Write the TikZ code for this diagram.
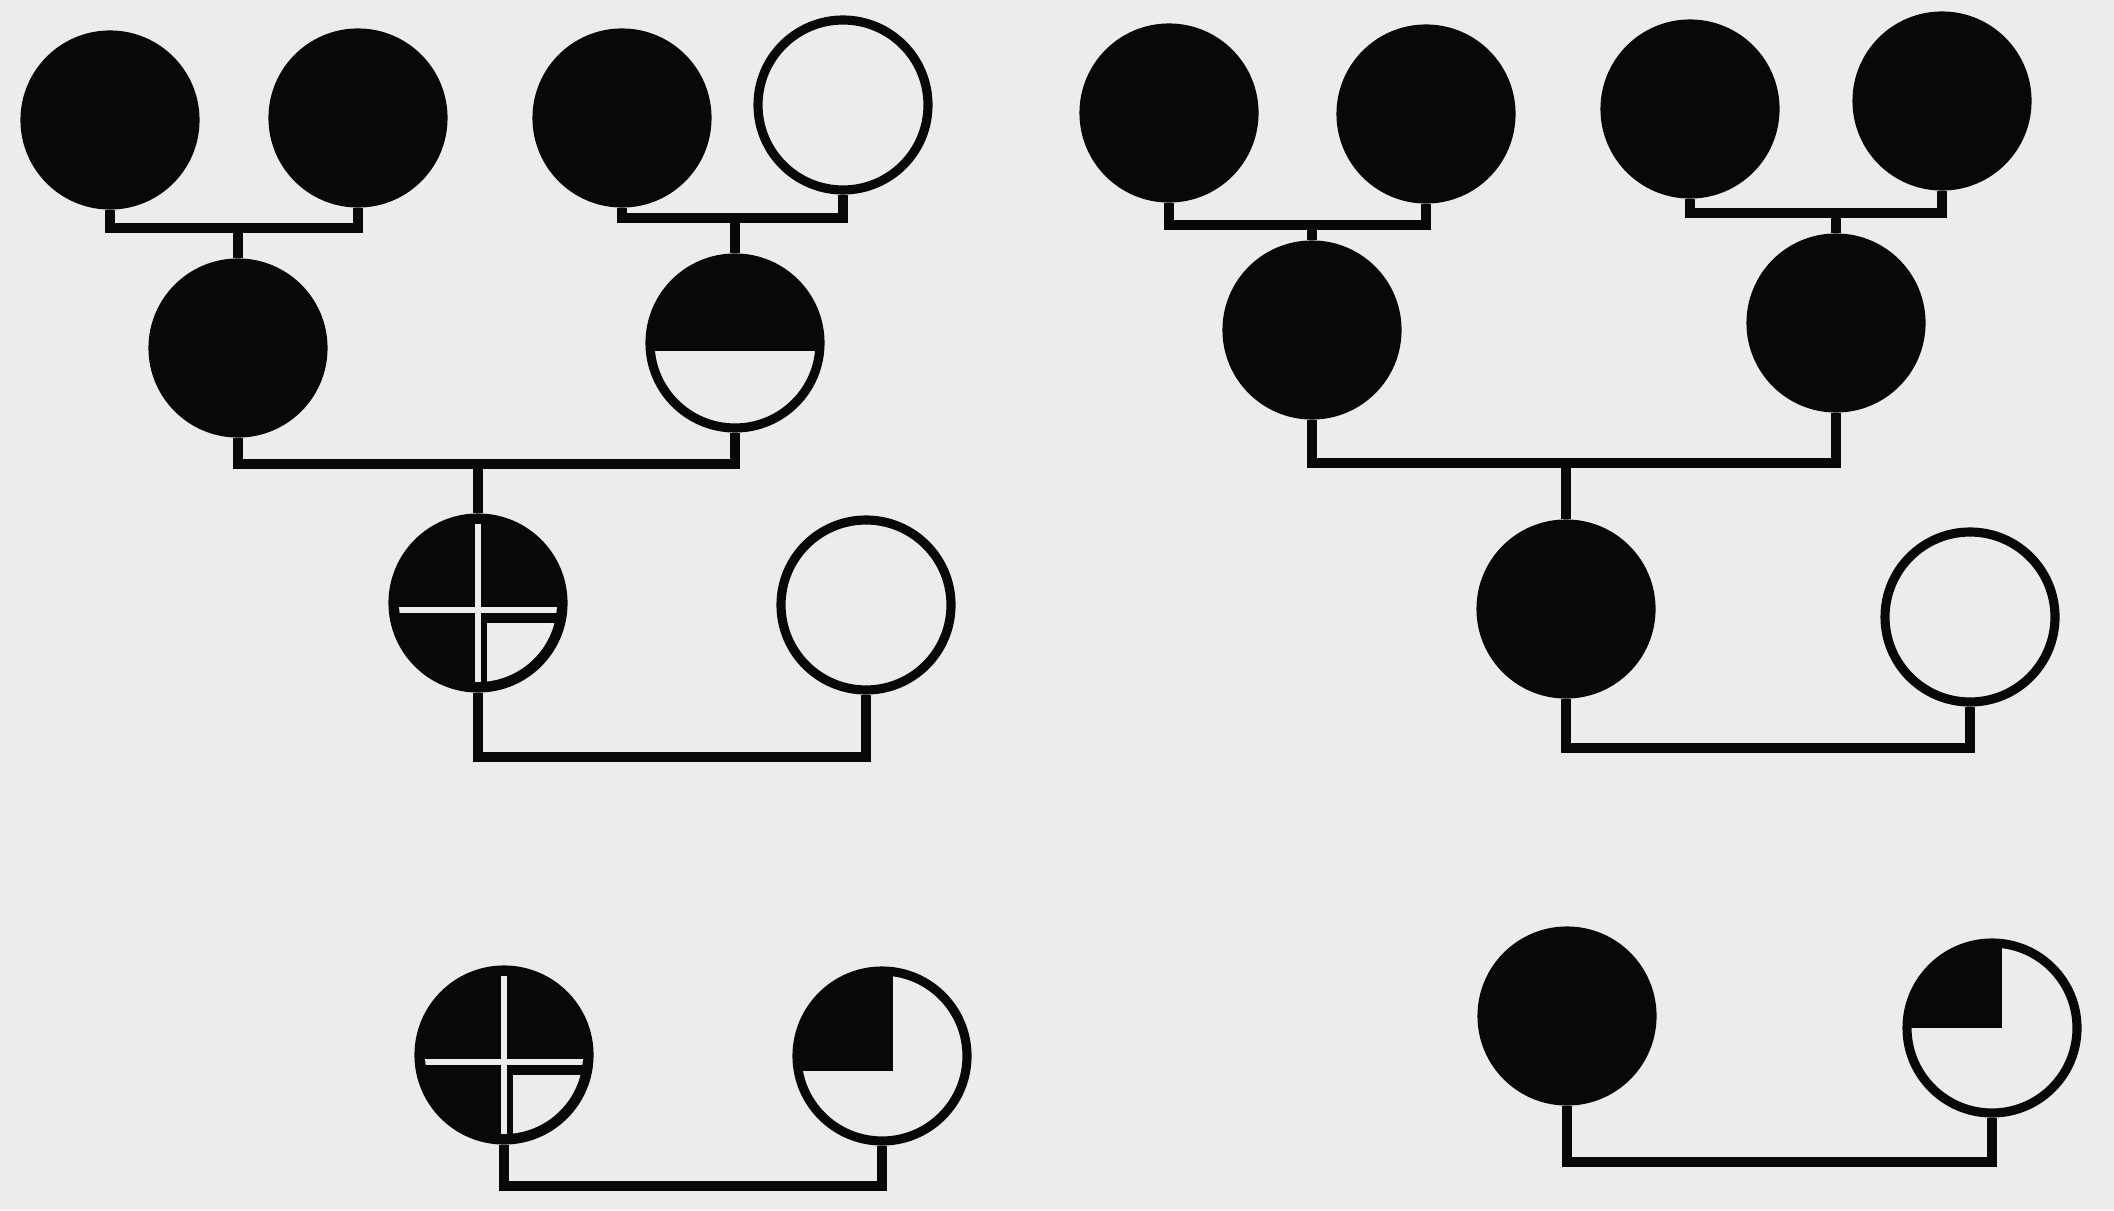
\documentclass[tikz,border=0pt]{standalone}
\usepackage{tikz}
\definecolor{paper}{RGB}{236,235,237}
\definecolor{ink}{RGB}{8,8,8}

\begin{document}
\begin{tikzpicture}[
  x=0.1mm, y=0.1mm,
  person/.style={circle,draw=ink,line width=2.6pt,minimum size=17mm,inner sep=0pt},
  affected/.style={person,fill=ink},
  healthy/.style={person,fill=paper},
  half/.style={person,fill=paper,path picture={
    \fill[ink] ([yshift=-0.8mm]path picture bounding box.west) rectangle (path picture bounding box.north east);}},
  quarter/.style={person,fill=paper,path picture={
    \fill[ink] ([shift={(#1)}]path picture bounding box.center) rectangle (path picture bounding box.north west);}},
  crossed/.style={person,fill=ink,path picture={
    \clip (path picture bounding box.center) circle[radius=7.9mm];
    \fill[paper] ([xshift=0.9mm,yshift=-2mm]path picture bounding box.center) rectangle ++(10mm,-10mm);
    \draw[paper,line width=1.6pt] ([xshift=-9mm,yshift=-0.7mm]path picture bounding box.center) -- ++(18mm,0);
    \draw[paper,line width=1.6pt] ([yshift=9mm]path picture bounding box.center) -- ++(0,-18mm);}},
  link/.style={draw=ink,line width=2.8pt}
]
\fill[paper] (0,0) rectangle (2114,1210);
\useasboundingbox (0,0) rectangle (2114,1210);

% left family
\node[affected] (a1) at (110,1090) {};
\node[affected] (a2) at (358,1092) {};
\node[affected] (a3) at (622,1092) {};
\node[healthy]  (a4) at (843,1105) {};
\node[affected] (a5) at (238,862) {};
\node[half]     (a6) at (735,867) {};
\node[crossed]  (c1) at (478,607) {};
\node[healthy]  (c2) at (866,605) {};
\node[crossed]  (d1) at (504,155) {};
\node[quarter={1.1mm,-1.5mm}] (d2) at (882,154) {};

\coordinate (m1) at (238,982);
\coordinate (m2) at (735,992);
\coordinate (m3) at (478,746);
\coordinate (m5) at (675,453);
\coordinate (m7) at (700,24);
\draw[link] (a1.south) |- (m1) -| (a2.south);
\draw[link] (m1) -- (m1 |- a5.north);
\draw[link] (a3.south) |- (m2) -| (a4.south);
\draw[link] (m2) -- (m2 |- a6.north);
\draw[link] (a5.south) |- (m3) -| (a6.south);
\draw[link] (m3) -- (m3 |- c1.north);
\draw[link] (c1.south) |- (m5) -| (c2.south);
\draw[link] (d1.south) |- (m7) -| (d2.south);

% right family
\node[affected] (b1) at (1169,1097) {};
\node[affected] (b2) at (1426,1096) {};
\node[affected] (b3) at (1690,1101) {};
\node[affected] (b4) at (1942,1109) {};
\node[affected] (b5) at (1312,880) {};
\node[affected] (b6) at (1836,887) {};
\node[affected] (b7) at (1566,601) {};
\node[healthy]  (b8) at (1970,593) {};
\node[affected] (e1) at (1567,194) {};
\node[quarter={1.0mm,0mm}] (e2) at (1992,182) {};

\coordinate (n1) at (1312,985);
\coordinate (n2) at (1836,997);
\coordinate (n3) at (1566,747);
\coordinate (n5) at (1770,462);
\coordinate (n7) at (1780,48);
\draw[link] (b1.south) |- (n1) -| (b2.south);
\draw[link] (n1) -- (n1 |- b5.north);
\draw[link] (b3.south) |- (n2) -| (b4.south);
\draw[link] (n2) -- (n2 |- b6.north);
\draw[link] (b5.south) |- (n3) -| (b6.south);
\draw[link] (n3) -- (n3 |- b7.north);
\draw[link] (b7.south) |- (n5) -| (b8.south);
\draw[link] (e1.south) |- (n7) -| (e2.south);
\end{tikzpicture}
\end{document}
